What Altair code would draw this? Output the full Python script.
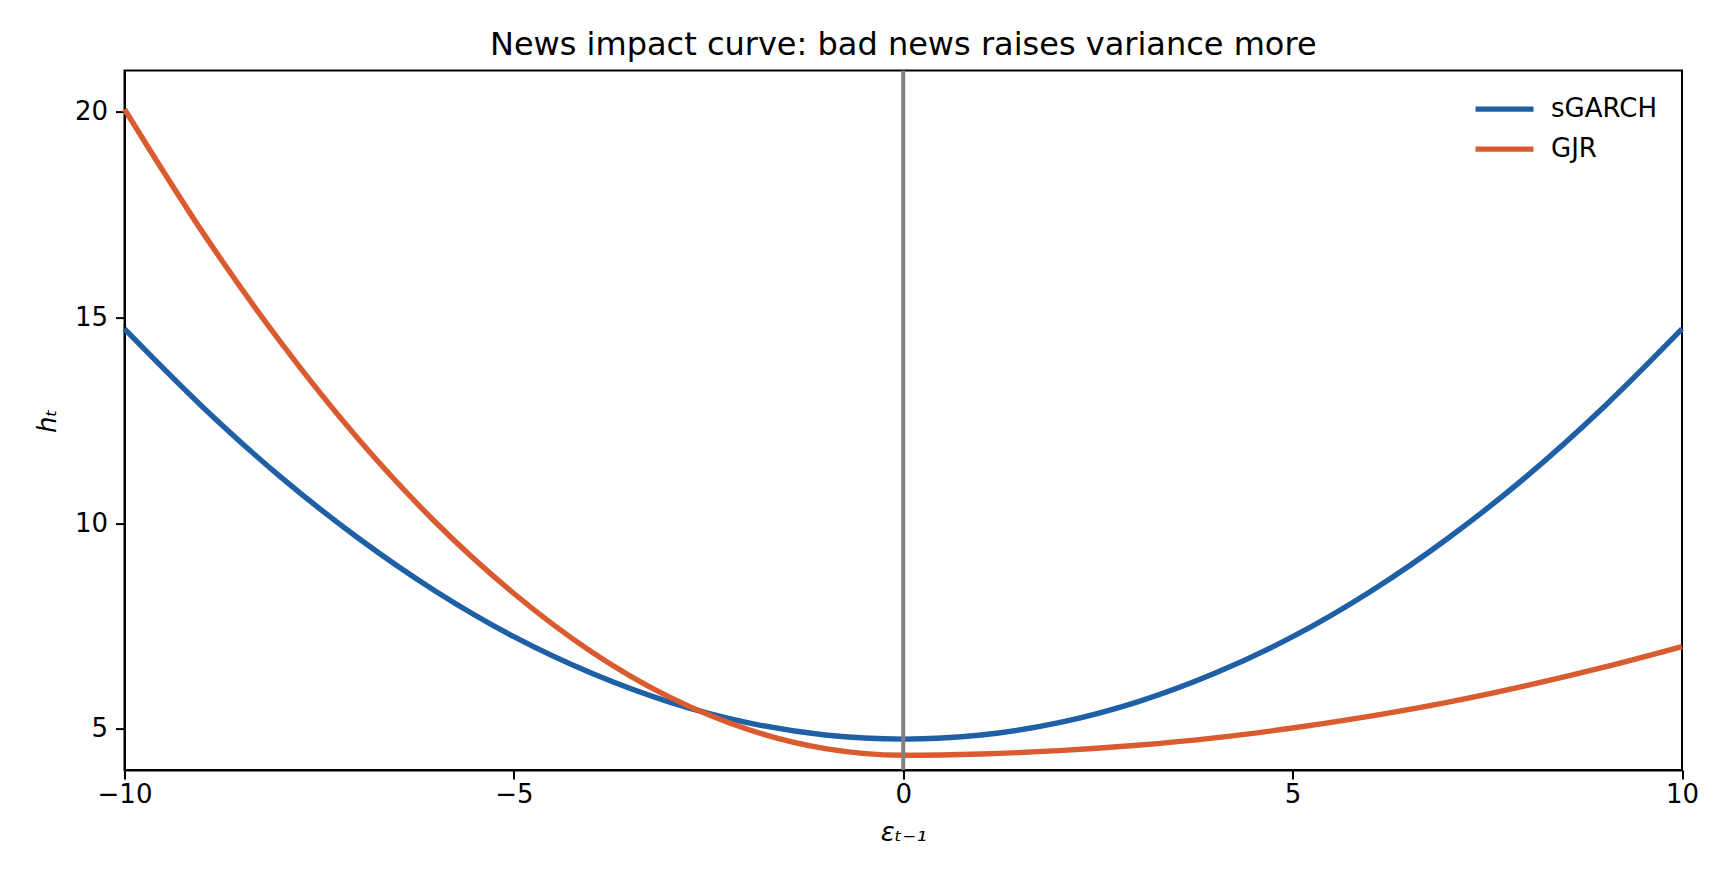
import altair as alt
import pandas as pd

# Values
eps = [-10, -9, -8, -7, -6, -5, -4, -3, -2, -1, 0,
       1, 2, 3, 4, 5, 6, 7, 8, 9, 10]
sgarch = [14.72, 12.83, 11.13, 9.64, 8.34, 7.24, 6.35, 5.65, 5.15, 4.85, 4.75,
          4.85, 5.15, 5.65, 6.35, 7.24, 8.34, 9.64, 11.13, 12.83, 14.72]
gjr = [20.06, 17.08, 14.41, 12.05, 10.01, 8.29, 6.87, 5.77, 4.99, 4.52, 4.36,
       4.39, 4.47, 4.60, 4.78, 5.02, 5.31, 5.65, 6.05, 6.50, 7.00]
series_names = ["sGARCH", "GJR"]
series_colors = ["#1f5fa6", "#d95b2f"]
vline_at = [0]
x_ticks = [-10, -5, 0, 5, 10]
y_ticks = [5, 10, 15, 20]

df = pd.DataFrame({
    "eps": eps * 2,
    "h": sgarch + gjr,
    "model": [series_names[0]] * len(eps) + [series_names[1]] * len(eps),
})
vdf = pd.DataFrame({"eps": vline_at})

FONT = "DejaVu Sans"

x_enc = alt.X(
    "eps:Q",
    scale=alt.Scale(domain=[-10, 10], nice=False, zero=False),
    axis=alt.Axis(
        title="εₜ₋₁",
        values=x_ticks,
        labelExpr="replace(format(datum.value, 'd'), '-', '−')",
        labelFlush=False,
        labelOverlap=False,
        grid=False,
        tickSize=9,
        tickWidth=2,
        tickColor="black",
        domainColor="black",
        domainWidth=2,
        labelFont=FONT,
        labelFontSize=26,
        labelColor="black",
        labelPadding=2,
        titleFont=FONT,
        titleFontSize=26,
        titleFontStyle="italic",
        titleFontWeight="normal",
        titleColor="black",
        titlePadding=12,
    ),
)
y_enc = alt.Y(
    "h:Q",
    scale=alt.Scale(domain=[4.0, 21.0], nice=False, zero=False),
    axis=alt.Axis(
        title="hₜ",
        values=y_ticks,
        labelFlush=False,
        labelOverlap=False,
        grid=False,
        tickSize=9,
        tickWidth=2,
        tickColor="black",
        domainColor="black",
        domainWidth=2,
        labelFont=FONT,
        labelFontSize=26,
        labelColor="black",
        labelPadding=8,
        titleFont=FONT,
        titleFontSize=26,
        titleFontStyle="italic",
        titleFontWeight="normal",
        titleColor="black",
        titlePadding=14,
    ),
)

lines = alt.Chart(df).mark_line(strokeWidth=5.4, interpolate="monotone").encode(
    x=x_enc,
    y=y_enc,
    color=alt.Color(
        "model:N",
        scale=alt.Scale(domain=series_names, range=series_colors),
        legend=alt.Legend(
            title=None,
            orient="none",
            legendX=1364.5,
            legendY=23,
            symbolType="M-2.32,0H2.32",
            symbolSize=625,
            symbolStrokeWidth=5.4,
            labelFont=FONT,
            labelFontSize=26,
            labelColor="black",
            labelOffset=31,
            rowPadding=11,
            padding=0,
        ),
    ),
    order=alt.Order("eps:Q"),
)

vline = alt.Chart(vdf).mark_rule(color="#808080", strokeWidth=4).encode(
    x=alt.X("eps:Q")
)

chart = alt.layer(lines, vline).properties(
    width=1557.5,
    height=699.4,
    padding={"left": 116.5, "top": 62.6, "right": 30, "bottom": 90},
    autosize="none",
    background="white",
    title=alt.TitleParams(
        "News impact curve: bad news raises variance more",
        font=FONT,
        fontSize=32,
        fontWeight="normal",
        color="black",
        anchor="middle",
        baseline="alphabetic",
        offset=14.6,
        dy=33,
    ),
).configure_view(stroke="black", strokeWidth=2)

chart.save("out.html", embed_options={"renderer": "svg", "actions": False})
